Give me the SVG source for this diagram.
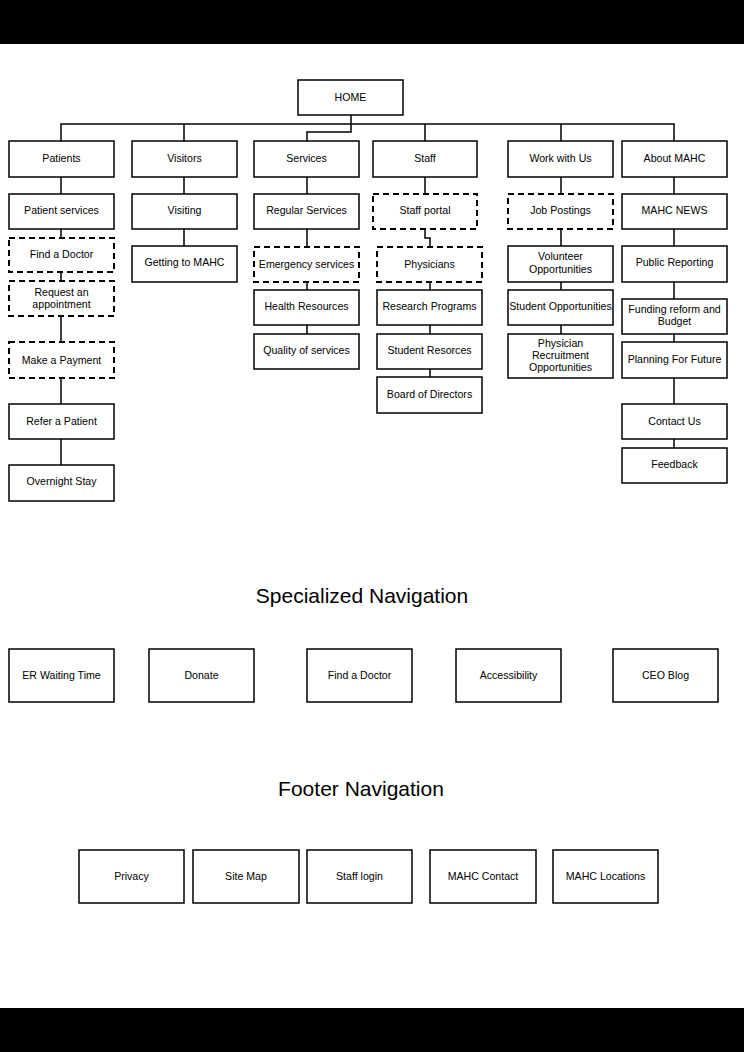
<svg xmlns="http://www.w3.org/2000/svg" width="744" height="1052" viewBox="0 0 744 1052">
<style>
.b{fill:#fff;stroke:#000;stroke-width:1.5}
.d{fill:#fff;stroke:#000;stroke-width:2;stroke-dasharray:6 4}
.t{font-family:"Liberation Sans",Arial,sans-serif;font-size:10.6px;fill:#000;text-anchor:middle}
.h{font-family:"Liberation Sans",Arial,sans-serif;font-size:21px;fill:#000;text-anchor:middle}
.c{fill:none;stroke:#000;stroke-width:1.5}
</style>
<rect x="0" y="0" width="744" height="1052" fill="#fff"/>
<rect x="0" y="0" width="744" height="44" fill="#000"/>
<rect x="0" y="1008" width="744" height="44" fill="#000"/>
<g id="connectors">
<path class="c" d="M61 141V124H674V141M184 124V141M425 124V141M561 124V141M351 115V132H307V141"/>
<path class="c" d="M61 177V194M61 229V238M61 272V281M61 316V342M61 378V404M61 439V465"/>
<path class="c" d="M184 177V194M184 229V246"/>
<path class="c" d="M307 177V194M307 229V247M307 282V290M307 325V334"/>
<path class="c" d="M425 177V194M425 229V238H430V247M430 282V290M430 325V334M430 369V377"/>
<path class="c" d="M561 177V194M561 229V246M561 282V290M561 325V334"/>
<path class="c" d="M674 177V194M674 229V246M674 282V299M674 334V342M674 378V404M674 439V448"/>
</g>
<g id="home"><rect class="b" x="298" y="80" width="105" height="35"/><text class="t" x="350.5" y="101">HOME</text></g>
<g id="patients"><rect class="b" x="9" y="141" width="105" height="36"/><text class="t" x="61.5" y="162">Patients</text></g>
<g id="visitors"><rect class="b" x="132" y="141" width="105" height="36"/><text class="t" x="184.5" y="162">Visitors</text></g>
<g id="services"><rect class="b" x="254" y="141" width="105" height="36"/><text class="t" x="306.5" y="162">Services</text></g>
<g id="staff"><rect class="b" x="373" y="141" width="104" height="36"/><text class="t" x="425" y="162">Staff</text></g>
<g id="work"><rect class="b" x="508" y="141" width="105" height="36"/><text class="t" x="560.5" y="162">Work with Us</text></g>
<g id="about"><rect class="b" x="622" y="141" width="105" height="36"/><text class="t" x="674.5" y="162">About MAHC</text></g>

<g id="patient-services"><rect class="b" x="9" y="194" width="105" height="35"/><text class="t" x="61.5" y="214">Patient services</text></g>
<g id="find-doctor"><rect class="d" x="9" y="238" width="105" height="34"/><text class="t" x="61.5" y="258">Find a Doctor</text></g>
<g id="request-appointment"><rect class="d" x="9" y="281" width="105" height="35"/><text class="t" x="61.5" y="296">Request an</text><text class="t" x="61.5" y="308">appointment</text></g>
<g id="make-payment"><rect class="d" x="9" y="342" width="105" height="36"/><text class="t" x="61.5" y="364">Make a Payment</text></g>
<g id="refer-patient"><rect class="b" x="9" y="404" width="105" height="35"/><text class="t" x="61.5" y="425">Refer a Patient</text></g>
<g id="overnight-stay"><rect class="b" x="9" y="465" width="105" height="36"/><text class="t" x="61.5" y="485">Overnight Stay</text></g>

<g id="visiting"><rect class="b" x="132" y="194" width="105" height="35"/><text class="t" x="184.5" y="214">Visiting</text></g>
<g id="getting-to-mahc"><rect class="b" x="132" y="246" width="105" height="36"/><text class="t" x="184.5" y="266">Getting to MAHC</text></g>

<g id="regular-services"><rect class="b" x="254" y="194" width="105" height="35"/><text class="t" x="306.5" y="214">Regular Services</text></g>
<g id="emergency-services"><rect class="d" x="254" y="247" width="105" height="35"/><text class="t" x="306.5" y="268">Emergency services</text></g>
<g id="health-resources"><rect class="b" x="254" y="290" width="105" height="35"/><text class="t" x="306.5" y="310">Health Resources</text></g>
<g id="quality-services"><rect class="b" x="254" y="334" width="105" height="35"/><text class="t" x="306.5" y="354">Quality of services</text></g>

<g id="staff-portal"><rect class="d" x="373" y="194" width="104" height="35"/><text class="t" x="425" y="214">Staff portal</text></g>
<g id="physicians"><rect class="d" x="377" y="247" width="105" height="35"/><text class="t" x="429.5" y="268">Physicians</text></g>
<g id="research-programs"><rect class="b" x="377" y="290" width="105" height="35"/><text class="t" x="429.5" y="310">Research Programs</text></g>
<g id="student-resorces"><rect class="b" x="377" y="334" width="105" height="35"/><text class="t" x="429.5" y="354">Student Resorces</text></g>
<g id="board-directors"><rect class="b" x="377" y="377" width="105" height="36"/><text class="t" x="429.5" y="398">Board of Directors</text></g>

<g id="job-postings"><rect class="d" x="508" y="194" width="105" height="35"/><text class="t" x="560.5" y="214">Job Postings</text></g>
<g id="volunteer"><rect class="b" x="508" y="246" width="105" height="36"/><text class="t" x="560.5" y="260">Volunteer</text><text class="t" x="560.5" y="273">Opportunities</text></g>
<g id="student-opportunities"><rect class="b" x="508" y="290" width="105" height="35"/><text class="t" x="560.5" y="310">Student Opportunities</text></g>
<g id="physician-recruitment"><rect class="b" x="508" y="334" width="105" height="44"/><text class="t" x="560.5" y="347">Physician</text><text class="t" x="560.5" y="359">Recruitment</text><text class="t" x="560.5" y="371">Opportunities</text></g>

<g id="mahc-news"><rect class="b" x="622" y="194" width="105" height="35"/><text class="t" x="674.5" y="214">MAHC NEWS</text></g>
<g id="public-reporting"><rect class="b" x="622" y="246" width="105" height="36"/><text class="t" x="674.5" y="266">Public Reporting</text></g>
<g id="funding-reform"><rect class="b" x="622" y="299" width="105" height="35"/><text class="t" x="674.5" y="313">Funding reform and</text><text class="t" x="674.5" y="325">Budget</text></g>
<g id="planning-future"><rect class="b" x="622" y="342" width="105" height="36"/><text class="t" x="674.5" y="363">Planning For Future</text></g>
<g id="contact-us"><rect class="b" x="622" y="404" width="105" height="35"/><text class="t" x="674.5" y="425">Contact Us</text></g>
<g id="feedback"><rect class="b" x="622" y="448" width="105" height="35"/><text class="t" x="674.5" y="468">Feedback</text></g>

<text class="h" x="362" y="603">Specialized Navigation</text>
<g id="er-waiting"><rect class="b" x="9" y="649" width="105" height="53"/><text class="t" x="61.5" y="679">ER Waiting Time</text></g>
<g id="donate"><rect class="b" x="149" y="649" width="105" height="53"/><text class="t" x="201.5" y="679">Donate</text></g>
<g id="find-doctor-2"><rect class="b" x="307" y="649" width="105" height="53"/><text class="t" x="359.5" y="679">Find a Doctor</text></g>
<g id="accessibility"><rect class="b" x="456" y="649" width="105" height="53"/><text class="t" x="508.5" y="679">Accessibility</text></g>
<g id="ceo-blog"><rect class="b" x="613" y="649" width="105" height="53"/><text class="t" x="665.5" y="679">CEO Blog</text></g>

<text class="h" x="361" y="796">Footer Navigation</text>
<g id="privacy"><rect class="b" x="79" y="850" width="105" height="53"/><text class="t" x="131.5" y="880">Privacy</text></g>
<g id="site-map"><rect class="b" x="193" y="850" width="106" height="53"/><text class="t" x="246" y="880">Site Map</text></g>
<g id="staff-login"><rect class="b" x="307" y="850" width="105" height="53"/><text class="t" x="359.5" y="880">Staff login</text></g>
<g id="mahc-contact"><rect class="b" x="430" y="850" width="106" height="53"/><text class="t" x="483" y="880">MAHC Contact</text></g>
<g id="mahc-locations"><rect class="b" x="553" y="850" width="105" height="53"/><text class="t" x="605.5" y="880">MAHC Locations</text></g>
</svg>
